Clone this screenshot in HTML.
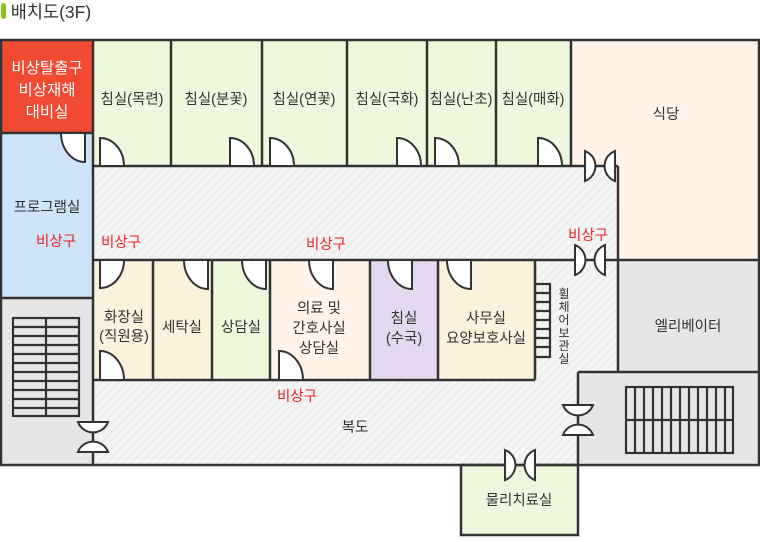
<!DOCTYPE html>
<html><head><meta charset="utf-8"><style>
body{margin:0;background:#fff;width:760px;height:537px;overflow:hidden}
svg text{font-family:"Liberation Sans","Noto Sans CJK KR",sans-serif;font-size:14.5px;fill:#333;text-anchor:middle}
svg text.r{fill:#e8232a}
svg text.w{fill:#fff}
</style></head><body>
<svg width="760" height="537" viewBox="0 0 760 537" xmlns="http://www.w3.org/2000/svg">
<defs>
<pattern id="h" width="6" height="6" patternUnits="userSpaceOnUse" patternTransform="rotate(45)">
<rect width="6" height="6" fill="#f4f4f4"/><line x1="0" y1="0" x2="0" y2="6" stroke="#e2e2e2" stroke-width="1.5"/>
</pattern>
<g id="bh"><path d="M-15,-15 A16,16 0 0 1 -15,15 Z M15,-15 A16,16 0 0 0 15,15 Z" fill="#fff" stroke="#333" stroke-width="2"/></g>
<g id="bv"><path d="M-15,-15 A16,16 0 0 0 15,-15 Z M-15,15 A16,16 0 0 1 15,15 Z" fill="#fff" stroke="#333" stroke-width="2"/></g>
</defs>
<rect x="1" y="3" width="5" height="16" rx="2.5" fill="#8dc21f"/>
<text x="51" y="18" style="font-size:17.5px;fill:#333">배치도(3F)</text>

<rect x="1" y="40" width="758" height="425" fill="url(#h)"/>
<rect x="1" y="40" width="92" height="93" fill="#f04a32"/>
<rect x="1" y="133" width="92" height="165" fill="#cfe4f8"/>
<rect x="1" y="298" width="92" height="167" fill="#e6e6e6"/>
<rect x="93" y="40" width="478" height="126" fill="#eef8dc"/>
<path d="M571,40 H759 V260 H618 V166 H571 Z" fill="#fff3ea"/>
<rect x="618" y="260" width="141" height="112" fill="#e6e6e6"/>
<rect x="578" y="372" width="181" height="93" fill="#e6e6e6"/>
<rect x="93" y="260" width="60" height="120" fill="#faf2dc"/>
<rect x="153" y="260" width="59" height="120" fill="#faf2dc"/>
<rect x="212" y="260" width="58" height="120" fill="#eef8dc"/>
<rect x="270" y="260" width="100" height="120" fill="#fff3ea"/>
<rect x="370" y="260" width="68" height="120" fill="#e4d8f0"/>
<rect x="438" y="260" width="97" height="120" fill="#faf2dc"/>
<rect x="461" y="465" width="117" height="70" fill="#eef8dc"/>

<g stroke="#333" stroke-width="2.5" fill="none">
<rect x="1" y="40" width="758" height="425"/>
<rect x="461" y="465" width="117" height="70"/>
<line x1="93" y1="40" x2="93" y2="465"/>
<line x1="1" y1="133" x2="93" y2="133"/>
<line x1="1" y1="298" x2="93" y2="298"/>
<line x1="93" y1="166" x2="618" y2="166"/>
<line x1="171" y1="40" x2="171" y2="166"/>
<line x1="262" y1="40" x2="262" y2="166"/>
<line x1="347" y1="40" x2="347" y2="166"/>
<line x1="427" y1="40" x2="427" y2="166"/>
<line x1="496" y1="40" x2="496" y2="166"/>
<line x1="571" y1="40" x2="571" y2="166"/>
<line x1="618" y1="166" x2="618" y2="372"/>
<line x1="93" y1="260" x2="759" y2="260"/>
<line x1="618" y1="372" x2="759" y2="372"/>
<line x1="578" y1="372" x2="578" y2="465"/>
<line x1="578" y1="372" x2="618" y2="372"/>
<line x1="93" y1="380" x2="535" y2="380"/>
<line x1="153" y1="260" x2="153" y2="380"/>
<line x1="212" y1="260" x2="212" y2="380"/>
<line x1="270" y1="260" x2="270" y2="380"/>
<line x1="370" y1="260" x2="370" y2="380"/>
<line x1="438" y1="260" x2="438" y2="380"/>
<line x1="535" y1="260" x2="535" y2="380"/>
</g>

<g fill="#fff" stroke="#333" stroke-width="2">
<path d="M85,133 V162 A24,29 0 0 1 61,133 Z"/>
<path d="M100,166 V138 A24,28 0 0 1 124,166 Z"/>
<path d="M230,166 V138 A24,28 0 0 1 254,166 Z"/>
<path d="M270,166 V138 A24,28 0 0 1 294,166 Z"/>
<path d="M397,166 V138 A24,28 0 0 1 421,166 Z"/>
<path d="M435,166 V138 A24,28 0 0 1 459,166 Z"/>
<path d="M538,166 V138 A24,28 0 0 1 562,166 Z"/>
<path d="M100,260 V288 A24,28 0 0 0 124,260 Z"/>
<path d="M208,260 V289 A24,29 0 0 1 184,260 Z"/>
<path d="M266,260 V289 A24,29 0 0 1 242,260 Z"/>
<path d="M333,260 V289 A24,29 0 0 1 309,260 Z"/>
<path d="M412,260 V289 A24,29 0 0 1 388,260 Z"/>
<path d="M471,260 V289 A24,29 0 0 1 447,260 Z"/>
<path d="M100,380 V351 A24,29 0 0 1 124,380 Z"/>
<path d="M279,380 V351 A24,29 0 0 1 303,380 Z"/>
</g>
<use href="#bh" x="600" y="166"/>
<use href="#bh" x="590" y="260"/>
<use href="#bh" x="520" y="465"/>
<use href="#bv" x="93" y="437"/>
<use href="#bv" x="578" y="420"/>

<g stroke="#333" stroke-width="2.2" fill="none">
<rect x="13" y="318" width="66" height="98"/>
<line x1="46" y1="318" x2="46" y2="416"/>
<path d="M13,327H79M13,336H79M13,345H79M13,354H79M13,363H79M13,372H79M13,381H79M13,390H79M13,399H79M13,408H79"/>
<rect x="626" y="387" width="107" height="66"/>
<line x1="626" y1="420" x2="733" y2="420"/>
<path d="M635,387V453M644,387V453M653,387V453M662,387V453M671,387V453M680,387V453M689,387V453M698,387V453M707,387V453M716,387V453M725,387V453"/>
<path d="M536,284H550V357H536M536,293H550M536,302H550M536,311H550M536,320H550M536,329H550M536,338H550M536,347H550"/>
</g>

<text class="w" x="47" y="73" style="font-size:15.5px">비상탈출구</text>
<text class="w" x="47" y="95" style="font-size:15.5px">비상재해</text>
<text class="w" x="47" y="117" style="font-size:15.5px">대비실</text>
<text x="132" y="104">침실(목련)</text>
<text x="216" y="104">침실(분꽃)</text>
<text x="304" y="104">침실(연꽃)</text>
<text x="387" y="104">침실(국화)</text>
<text x="461" y="104">침실(난초)</text>
<text x="533" y="104">침실(매화)</text>
<text x="666" y="119">식당</text>
<text x="47" y="212">프로그램실</text>
<text class="r" x="56" y="246">비상구</text>
<text class="r" x="121" y="247">비상구</text>
<text class="r" x="326" y="249">비상구</text>
<text class="r" x="588" y="240">비상구</text>
<text x="124" y="322">화장실</text>
<text x="124" y="341">(직원용)</text>
<text x="182" y="332">세탁실</text>
<text x="241" y="332">상담실</text>
<text x="319" y="313">의료 및</text>
<text x="319" y="333">간호사실</text>
<text x="319" y="353">상담실</text>
<text x="404" y="323">침실</text>
<text x="404" y="343">(수국)</text>
<text x="486" y="323">사무실</text>
<text x="486" y="343">요양보호사실</text>
<text x="564" y="298" style="font-size:12px">휠</text>
<text x="564" y="311" style="font-size:12px">체</text>
<text x="564" y="324" style="font-size:12px">어</text>
<text x="564" y="337" style="font-size:12px">보</text>
<text x="564" y="350" style="font-size:12px">관</text>
<text x="564" y="363" style="font-size:12px">실</text>
<text x="688" y="331">엘리베이터</text>
<text class="r" x="297" y="401">비상구</text>
<text x="355" y="432">복도</text>
<text x="519" y="505">물리치료실</text>
</svg>
</body></html>
